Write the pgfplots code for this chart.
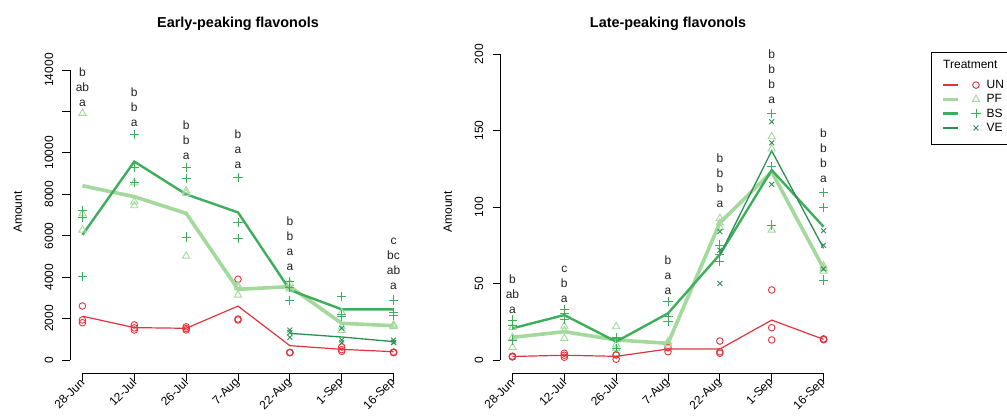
\documentclass[border=0pt]{standalone}
\usepackage{fontspec}
\setmainfont{Liberation Sans}
\usepackage{pgfplots}
\pgfplotsset{compat=1.18}
\definecolor{cUN}{HTML}{E0353D}
\definecolor{cPF}{HTML}{A3D99C}
\definecolor{cBS}{HTML}{3FAE5C}
\definecolor{cVE}{HTML}{2B8F52}
\definecolor{cTxt}{HTML}{222222}
\newcommand{\fs}{\fontsize{12}{14.4}\selectfont}
\newcommand{\lt}[4]{\node[anchor=base,inner sep=0pt,yshift=#3,text=cTxt,font=\fs] at (axis cs:#1,#2) {#4};}
\pgfplotsset{
  base/.style={scale only axis, clip=false, scaled y ticks=false, scaled x ticks=false,
    axis x line*=bottom, axis y line*=left, axis line style={draw=none},
    tick align=outside, major tick length=7.5pt, tick style={black, line width=0.8pt},
    xmin=-0.24, xmax=6.24, xtick={0,...,6},
    xticklabels={28-Jun,12-Jul,26-Jul,7-Aug,22-Aug,1-Sep,16-Sep},
    xticklabel style={rotate=45, anchor=east, inner sep=0pt, font=\fs},
    yticklabel style={xshift=-9pt, rotate=90, anchor=south, inner sep=0pt, font=\fs},
    ylabel={Amount}, label style={font=\fs},
    title style={font=\fontsize{14.4}{16}\selectfont\bfseries, anchor=center},
  },
  UNl/.style={color=cUN, line width=1.2pt},
  PFl/.style={color=cPF, line width=3.6pt},
  BSl/.style={color=cBS, line width=2.4pt},
  VEl/.style={color=cVE, line width=1.3pt},
  UNm/.style={color=cUN, only marks, mark=o, mark size=3.3pt, mark options={line width=0.9pt}},
  PFm/.style={color=cPF, only marks, mark=triangle, mark size=4.2pt, mark options={line width=0.9pt}},
  BSm/.style={color=cBS, only marks, mark=+, mark size=4.6pt, mark options={line width=0.9pt}},
  VEm/.style={color=cVE, only marks, mark=x, mark size=3.4pt, mark options={line width=0.9pt}},
}
\begin{document}
\begin{tikzpicture}[font=\fs]
\path[use as bounding box] (0pt,0pt) rectangle (1007pt,418pt);
\clip (0pt,0pt) rectangle (1007pt,418pt);
% ---------------- Left panel ----------------
\begin{axis}[base, at={(70pt,45pt)}, anchor=south west, width=336pt, height=313pt,
  ymin=-628, ymax=14483,
  ytick={0,2000,4000,6000,8000,10000,12000,14000},
  yticklabels={0,2000,4000,6000,8000,10000,,14000},
  ylabel style={at={(axis description cs:-0.155,0.514)}, anchor=center},
  title={Early-peaking flavonols}, title style={at={(axis description cs:0.5,1.096)}},
]
\draw[line width=0.8pt] (axis cs:-0.24,0) -- (axis cs:-0.24,14000);
\draw[line width=0.8pt] (axis cs:0,-628) -- (axis cs:6,-628);
% replicates
\addplot[UNm] coordinates {(0,2607)(0,1931)(0,1800)(1,1690)(1,1550)(1,1448)(2,1600)(2,1520)(2,1450)(3,3896)(3,1979)(3,1931)(4,352)(4,370)(4,360)(5,628)(5,500)(5,417)(6,352)(6,380)(6,370)};
\addplot[PFm] coordinates {(0,11910)(0,6276)(0,7059)(1,7641)(1,8559)(1,7450)(2,8173)(2,8049)(2,5021)(3,3138)(3,3500)(3,3600)(4,3700)(4,3500)(4,3420)(5,2283)(5,1600)(5,1430)(6,1700)(6,1650)(6,1618)};
\addplot[BSm] coordinates {(0,7210)(0,6890)(0,4020)(1,10894)(1,9283)(1,8559)(2,9283)(2,8770)(2,5938)(3,8818)(3,6628)(3,5866)(4,3780)(4,2863)(4,3494)(5,3055)(5,2200)(5,2083)(6,2897)(6,2300)(6,2141)};
\addplot[VEm] coordinates {(4,1448)(4,1318)(4,1094)(5,1529)(5,966)(5,835)(6,966)(6,850)(6,842)};
% means
\addplot[UNl] coordinates {(0,2113)(1,1563)(2,1530)(3,2602)(4,692)(5,515)(6,400)};
\addplot[PFl] coordinates {(0,8415)(1,7883)(2,7081)(3,3413)(4,3540)(5,1771)(6,1656)};
\addplot[BSl] coordinates {(0,6040)(1,9579)(2,7998)(3,7125)(4,3379)(5,2446)(6,2446)};
\addplot[VEl] coordinates {(4,1287)(5,1110)(6,886)};
% letters
\lt{0}{12215}{0pt}{a}\lt{0}{12215}{15pt}{ab}\lt{0}{12215}{30pt}{b}
\lt{1}{11249}{0pt}{a}\lt{1}{11249}{15pt}{b}\lt{1}{11249}{30pt}{b}
\lt{2}{9656}{0pt}{a}\lt{2}{9656}{15pt}{b}\lt{2}{9656}{30pt}{b}
\lt{3}{9222}{0pt}{a}\lt{3}{9222}{15pt}{a}\lt{3}{9222}{30pt}{b}
\lt{4}{4297}{0pt}{a}\lt{4}{4297}{15pt}{a}\lt{4}{4297}{30pt}{b}\lt{4}{4297}{45pt}{b}
\lt{6}{3380}{0pt}{a}\lt{6}{3380}{15pt}{ab}\lt{6}{3380}{30pt}{bc}\lt{6}{3380}{45pt}{c}
\end{axis}
% ---------------- Right panel ----------------
\begin{axis}[base, at={(500pt,45pt)}, anchor=south west, width=336pt, height=333pt,
  ymin=-8.5, ymax=209.2,
  ytick={0,50,100,150,200},
  yticklabels={0,50,100,150,200},
  ylabel style={at={(axis description cs:-0.155,0.4835)}, anchor=center},
  title={Late-peaking flavonols}, title style={at={(axis description cs:0.5,1.030)}},
  legend cell align=left,
  legend image code/.code={\path[draw=none,fill=none] (0pt,-1pt) rectangle (41.6pt,1pt); \draw[#1, mark=none] (0pt,0pt) -- (15pt,0pt); \draw[#1] plot[only marks] coordinates {(33pt,0pt)};},
  legend style={at={(axis description cs:1.2827,0.9039)}, anchor=north west, draw=none, fill=none, font=\fs, row sep=0.5pt, inner xsep=10pt, inner ysep=6pt},
]
\draw[line width=0.8pt] (axis cs:-0.24,0) -- (axis cs:-0.24,200);
\draw[line width=0.8pt] (axis cs:0,-8.5) -- (axis cs:6,-8.5);
\addplot[UNm, forget plot] coordinates {(0,2.5)(0,2.0)(0,2.2)(1,4.4)(1,3.1)(1,1.8)(2,3.3)(2,0.5)(2,3.4)(3,5.4)(3,8.0)(3,8.2)(4,12.4)(4,5.4)(4,4.4)(5,45.8)(5,21.1)(5,13.1)(6,13.8)(6,13.3)(6,13.4)};
\addplot[PFm, forget plot] coordinates {(0,14.8)(0,8.3)(0,21.3)(1,19.2)(1,14.2)(1,22.1)(2,21.8)(2,10)(2,7.5)(3,10.9)(3,12)(3,9.8)(4,92.6)(4,89.7)(4,86.8)(5,146)(5,138)(5,85)(6,61.5)(6,60)(6,58.2)};
\addplot[BSm, forget plot] coordinates {(0,26.1)(0,22.9)(0,13.1)(1,33.1)(1,30.5)(1,26.6)(2,7.6)(2,13.9)(2,14.5)(3,38.1)(3,28.3)(3,25.1)(4,75.2)(4,69.3)(4,64.3)(5,161.2)(5,126.4)(5,88.2)(6,109.4)(6,99.8)(6,52.3)};
\addplot[VEm, forget plot] coordinates {(4,83.9)(4,71.8)(4,50.1)(5,155.8)(5,142.0)(5,114.8)(6,84.5)(6,75)(6,59.5)};
\addplot[UNl, forget plot] coordinates {(0,2.3)(1,3.1)(2,2.4)(3,7.2)(4,7.2)(5,26.1)(6,13.5)};
\addplot[PFl, forget plot] coordinates {(0,14.8)(1,18.5)(2,13.1)(3,10.9)(4,89.7)(5,123)(6,59.9)};
\addplot[BSl, forget plot] coordinates {(0,20.7)(1,29.4)(2,12.0)(3,30.5)(4,69.0)(5,124.2)(6,87.1)};
\addplot[VEl, forget plot] coordinates {(4,68.6)(5,136.8)(6,73.0)};
\lt{0}{30.7}{0pt}{a}\lt{0}{30.7}{15pt}{ab}\lt{0}{30.7}{30pt}{b}
\lt{1}{37.9}{0pt}{a}\lt{1}{37.9}{15pt}{b}\lt{1}{37.9}{30pt}{c}
\lt{3}{42.7}{0pt}{a}\lt{3}{42.7}{15pt}{a}\lt{3}{42.7}{30pt}{b}
\lt{4}{99.8}{0pt}{a}\lt{4}{99.8}{15pt}{b}\lt{4}{99.8}{30pt}{b}\lt{4}{99.8}{45pt}{b}
\lt{5}{167.8}{0pt}{a}\lt{5}{167.8}{15pt}{b}\lt{5}{167.8}{30pt}{b}\lt{5}{167.8}{45pt}{b}
\lt{6}{116.1}{0pt}{a}\lt{6}{116.1}{15pt}{b}\lt{6}{116.1}{30pt}{b}\lt{6}{116.1}{45pt}{b}
% legend frame and title
\draw[line width=0.8pt, fill=white] (axis description cs:1.2827,0.964) rectangle (axis description cs:1.70,0.6877);
\node[anchor=west, inner sep=0pt, font=\fs] at (axis description cs:1.3185,0.9279) {Treatment};
\addlegendimage{color=cUN, line width=1.2pt, mark=o, mark size=3.3pt, mark options={line width=0.9pt}}\addlegendentry{UN}
\addlegendimage{color=cPF, line width=3.6pt, mark=triangle, mark size=4.2pt, mark options={line width=0.9pt}}\addlegendentry{PF}
\addlegendimage{color=cBS, line width=2.4pt, mark=+, mark size=4.6pt, mark options={line width=0.9pt}}\addlegendentry{BS}
\addlegendimage{color=cVE, line width=2.2pt, mark=x, mark size=3.4pt, mark options={line width=0.9pt}}\addlegendentry{VE}
\end{axis}
\end{tikzpicture}
\end{document}
